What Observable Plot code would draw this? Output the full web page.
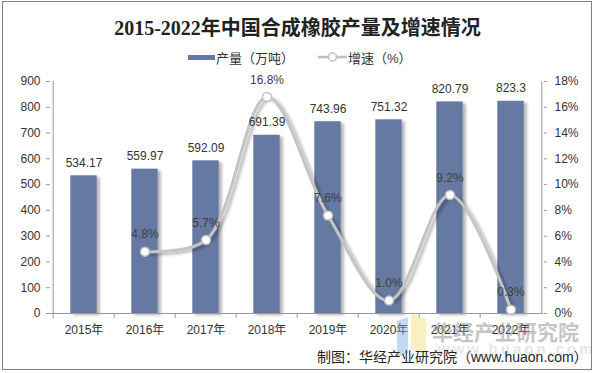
<!DOCTYPE html>
<html><head><meta charset="utf-8">
<script src="https://cdn.jsdelivr.net/npm/d3@7"></script>
<script src="https://cdn.jsdelivr.net/npm/@observablehq/plot@0.6"></script>
<style>
body{margin:0;background:#fff;}
#wrap{position:relative;width:595px;height:373px;overflow:hidden;font-family:"Liberation Sans","Noto Sans CJK SC",sans-serif;}
#chart{position:absolute;left:0;top:0;}
.abs{position:absolute;white-space:nowrap;}
#border{position:absolute;left:2px;top:1px;width:588px;height:367px;border:1.5px solid #808080;}
</style></head>
<body><div id="wrap">
<div id="chart"></div>
<div id="border"></div>
<div class="abs" id="title" style="left:0;width:595px;text-align:center;top:12px;font-family:'Liberation Serif','Noto Sans CJK SC',serif;font-weight:bold;font-size:20px;color:#222;">2015-2022年中国合成橡胶产量及增速情况</div>
<div class="abs" style="left:188px;top:55px;width:27px;height:5px;background:#6579a3;"></div>
<div class="abs" style="left:216px;top:48px;font-size:13px;color:#333;">产量（万吨）</div>
<svg class="abs" style="left:318px;top:51px;" width="30" height="12"><line x1="0" y1="6" x2="29" y2="6" stroke="#bfbfbf" stroke-width="2.5"/><circle cx="14.5" cy="6" r="4" fill="#fff" stroke="#bfbfbf" stroke-width="1.5"/></svg>
<div class="abs" style="left:348px;top:48px;font-size:13px;color:#333;">增速（%）</div>
<div class="abs" style="left:397px;top:319px;width:11px;height:36px;background:rgba(120,170,235,0.45);transform:skewY(-20deg);"></div>
<div class="abs" style="left:411px;top:316px;width:15px;height:36px;background:rgba(250,225,130,0.5);transform:skewY(20deg);"></div>
<div class="abs" style="left:432px;top:316px;font-size:21px;font-weight:bold;color:rgba(140,140,140,0.5);font-family:'Noto Sans CJK SC',sans-serif;">华经产业研究院</div>
<div class="abs" style="left:438px;top:340px;font-size:15px;font-weight:bold;color:rgba(150,150,150,0.25);letter-spacing:3px;">www.huaon.com</div>
<div class="abs" style="left:317px;top:346px;font-size:14px;color:#222;">制图：华经产业研究院（www.huaon.com）</div>
</div>
<script>
const years = ["2015年","2016年","2017年","2018年","2019年","2020年","2021年","2022年"];
const output = [534.17, 559.97, 592.09, 691.39, 743.96, 751.32, 820.79, 823.3];
const growth = [null, 4.8, 5.7, 16.8, 7.6, 1.0, 9.2, 0.3];
const leftTicks = [0,100,200,300,400,500,600,700,800,900];
const rightTicks = [0,2,4,6,8,10,12,14,16,18];

const K = 900 / 18; // growth % -> left-axis units
const rows = years.map((y, i) => ({year: y, output: output[i], growth: growth[i]}));
const grows = rows.filter(d => d.growth != null);
const half = (595 - 50 - 52) / years.length / 2;

const plot = Plot.plot({
  width: 595, height: 373,
  marginLeft: 50, marginRight: 52, marginTop: 81, marginBottom: 60,
  style: {fontSize: "12px", fontFamily: "'Liberation Sans','Noto Sans CJK SC',sans-serif", color: "#333", background: "transparent"},
  x: {domain: years, padding: 0, label: null},
  y: {domain: [0, 900], label: null},
  marks: [
    Plot.barY(rows, {x: "year", y: "output", fill: "#6579a3", insetLeft: 17.3, insetRight: 17.3}),
    Plot.ruleY([0], {stroke: "#999"}),
    Plot.ruleX([years[0]], {stroke: "#999", dx: -half}),
    Plot.ruleX([years[years.length-1]], {stroke: "#999", dx: half}),
    Plot.axisY({anchor: "left", ticks: leftTicks, tickSize: 4, tickPadding: 6, stroke: "#999", label: null}),
    Plot.axisY({anchor: "right", ticks: rightTicks.map(t => t * K), tickFormat: d => (d / K) + "%", tickSize: 3, tickPadding: 8, stroke: "#999", label: null}),
    Plot.axisX({tickSize: 5, tickFormat: () => "", dx: -half, stroke: "#999", label: null}),
    Plot.axisX({tickSize: 0, tickPadding: 12, label: null}),
    Plot.line(grows, {x: "year", y: d => d.growth * K, curve: "catmull-rom", stroke: "#c4c4c4", strokeWidth: 3}),
    Plot.dot(grows, {x: "year", y: d => d.growth * K, r: 4.5, fill: "white", stroke: "#bfbfbf", strokeWidth: 1.5}),
    Plot.text(rows, {x: "year", y: "output", text: d => String(d.output), dy: -13, fill: "#333"}),
    Plot.text(grows, {x: "year", y: d => d.growth * K, text: d => d.growth.toFixed(1) + "%", dy: -17, fill: "#404040"})
  ]
});
const svg = d3.select(plot);
const defs = svg.insert("defs", ":first-child");
const f = defs.append("filter").attr("id", "sh").attr("x", "-30%").attr("y", "-30%").attr("width", "160%").attr("height", "160%");
f.append("feDropShadow").attr("dx", 3).attr("dy", 2).attr("stdDeviation", 1.8).attr("flood-color", "#000").attr("flood-opacity", 0.3);
svg.selectAll("g[aria-label='bar'], g[aria-label='line']").attr("filter", "url(#sh)");
document.getElementById("chart").appendChild(plot);
</script>
</body></html>
